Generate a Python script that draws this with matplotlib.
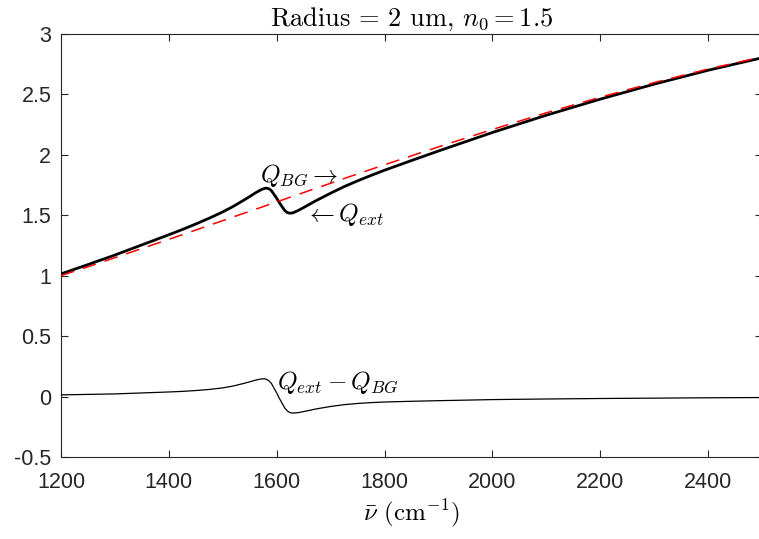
import matplotlib
matplotlib.use("Agg")
import matplotlib.pyplot as plt
import numpy as np

plt.rcParams['mathtext.fontset'] = 'cm'

# wavenumber grid (cm^-1)
nu = [1200, 1250, 1300, 1350, 1400, 1425, 1450, 1475, 1500, 1520, 1540, 1550,
      1560, 1570, 1575, 1580, 1585, 1590, 1595, 1600, 1605, 1610, 1615, 1620,
      1625, 1630, 1640, 1650, 1660, 1670, 1680, 1700, 1725, 1750, 1775, 1800,
      1850, 1900, 2000, 2100, 2200, 2300, 2400, 2500]
# extinction efficiency Q_ext
q_ext = [1.015, 1.092, 1.171, 1.255, 1.339, 1.382, 1.428, 1.476, 1.528, 1.575,
         1.628, 1.655, 1.684, 1.709, 1.719, 1.725, 1.721, 1.705, 1.673, 1.641,
         1.604, 1.571, 1.539, 1.522, 1.517, 1.520, 1.540, 1.564, 1.589, 1.614,
         1.637, 1.683, 1.737, 1.785, 1.830, 1.873, 1.953, 2.032, 2.185, 2.328,
         2.461, 2.585, 2.700, 2.803]
# background (non-absorbing) extinction Q_BG
q_bg = [1.001, 1.074, 1.149, 1.225, 1.301, 1.339, 1.378, 1.417, 1.456, 1.487,
        1.518, 1.533, 1.549, 1.564, 1.572, 1.580, 1.588, 1.595, 1.603, 1.611,
        1.619, 1.626, 1.634, 1.642, 1.650, 1.657, 1.673, 1.688, 1.704, 1.719,
        1.734, 1.765, 1.804, 1.842, 1.880, 1.918, 1.992, 2.066, 2.210, 2.348,
        2.477, 2.598, 2.710, 2.811]

xticks = [1200, 1400, 1600, 1800, 2000, 2200, 2400]
yticks = [-0.5, 0, 0.5, 1, 1.5, 2, 2.5, 3]
ytick_labels = ['-0.5', '0', '0.5', '1', '1.5', '2', '2.5', '3']

W, H = 759, 539
fig = plt.figure(figsize=(W / 100, H / 100), dpi=100)
ax = fig.add_axes([61 / W, 1 - 457 / H, (762 - 61) / W, (457 - 34) / H])

nu_a = np.array(nu)
qe = np.array(q_ext)
qb = np.array(q_bg)

ax.plot(nu_a, qe, color='black', lw=2.0, zorder=3, solid_joinstyle='round')
ax.plot(nu_a, qb, color='red', lw=1.1, ls=(0, (9, 6)), zorder=4)
ax.plot(nu_a, qe - qb, color='black', lw=0.9, zorder=3, solid_joinstyle='round')

ax.set_xlim(1200, 2500)
ax.set_ylim(-0.5, 3)
ax.set_xticks(xticks)
ax.set_xticklabels([str(t) for t in xticks])
ax.set_yticks(yticks)
ax.set_yticklabels(ytick_labels)

axcol = '#262626'
for s in ax.spines.values():
    s.set_color(axcol)
    s.set_linewidth(0.8)
ax.tick_params(direction='in', length=5, width=0.8, colors=axcol,
               top=True, right=True, labelsize=15.5, labelcolor='#262626')
ax.tick_params(axis='x', pad=11)
ax.tick_params(axis='y', pad=7)
for lab in ax.get_xticklabels() + ax.get_yticklabels():
    lab.set_fontfamily('Liberation Sans')

ax.set_title(r'Radius = 2 um, $n_0 = 1.5$', fontsize=19, pad=6,
             fontfamily='cmr10')
ax.set_xlabel(r'$\bar{\nu}$ (cm$^{-1}$)', fontsize=18, labelpad=3,
              fontfamily='cmr10')

ax.text(1569, 1.83, r'$Q_{BG} \rightarrow$', fontsize=18, va='center', ha='left')
ax.text(1652, 1.51, r'$\leftarrow Q_{ext}$', fontsize=18, va='center', ha='left')
ax.text(1600, 0.12, r'$Q_{ext} - Q_{BG}$', fontsize=18, va='center', ha='left')

fig.savefig('out.png', dpi=100)
